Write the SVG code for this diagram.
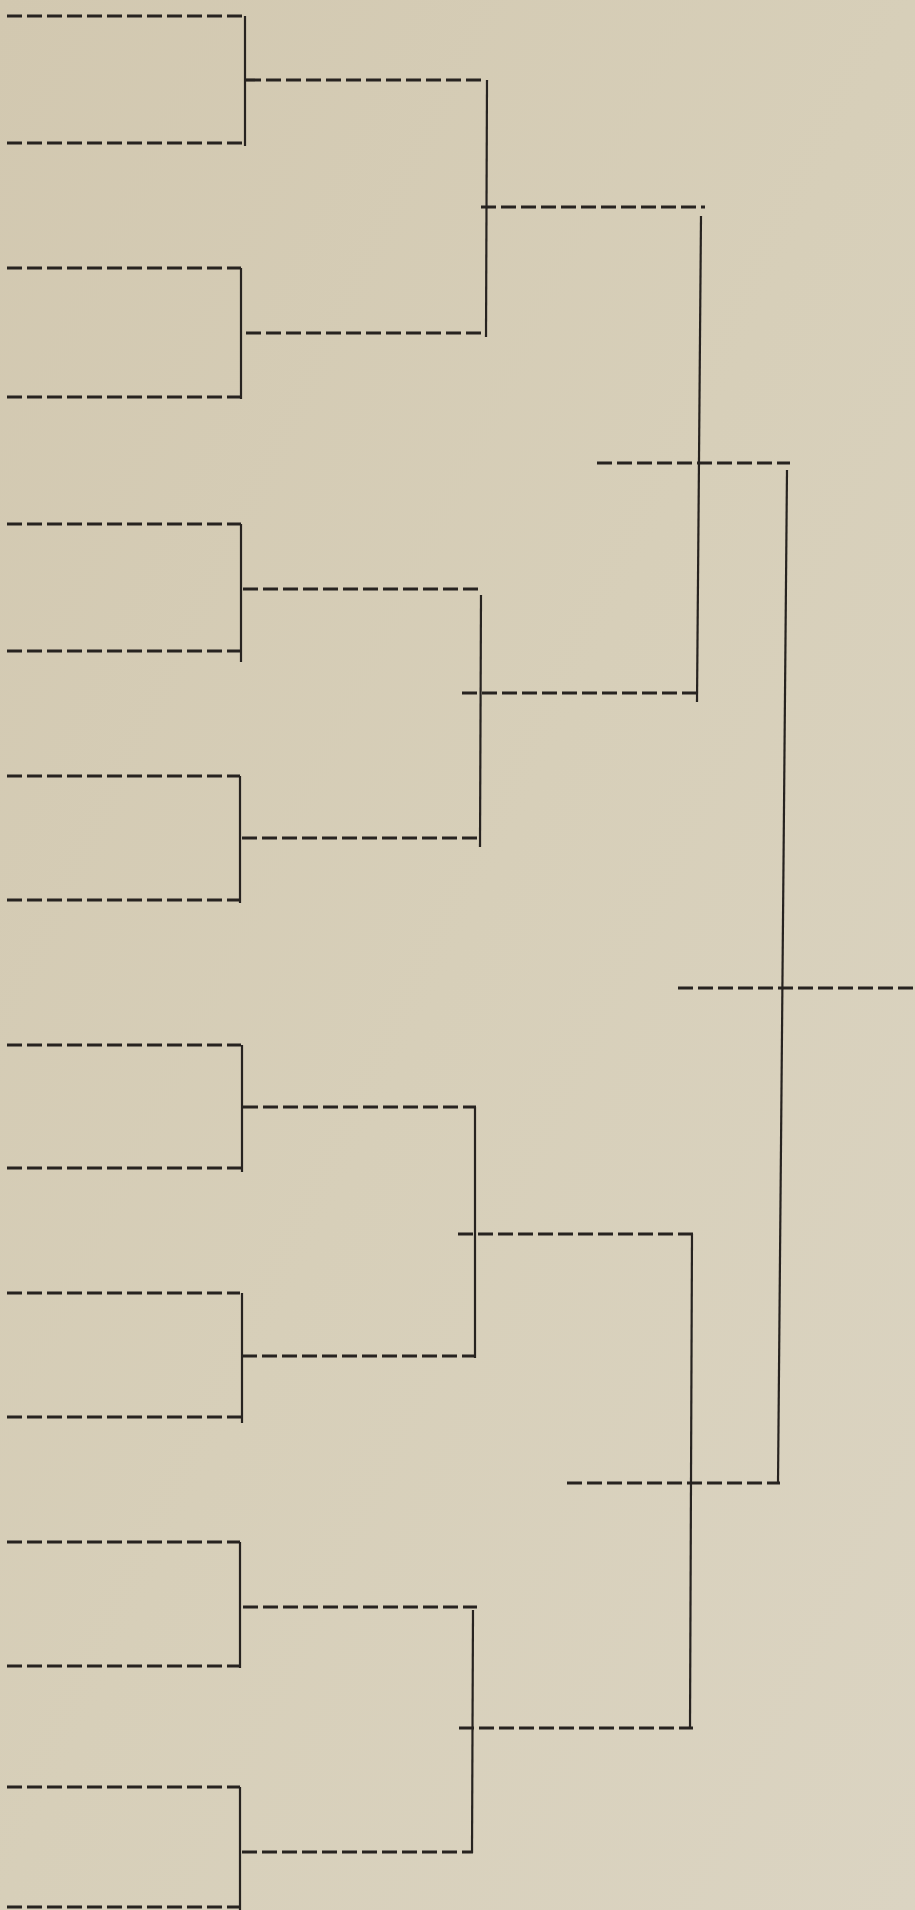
<svg xmlns="http://www.w3.org/2000/svg" width="915" height="1910" viewBox="0 0 915 1910">
<defs>
<linearGradient id="paper" x1="0" y1="0" x2="1" y2="1">
<stop offset="0" stop-color="#d2c8b0"/>
<stop offset="0.5" stop-color="#d7cfb9"/>
<stop offset="1" stop-color="#dbd4c2"/>
</linearGradient>
<style>
.slot{stroke:#272320;stroke-width:3.2;stroke-dasharray:15 5;fill:none}
.link{stroke:#272320;stroke-width:2.2;fill:none}
</style>
</defs>
<rect x="0" y="0" width="915" height="1910" fill="url(#paper)"/>
<g id="round1">
<g id="s1"><line class="slot" x1="7" y1="16" x2="245" y2="16"/></g>
<g id="s2"><line class="slot" x1="7" y1="143" x2="245" y2="143"/></g>
<g id="s3"><line class="slot" x1="7" y1="268" x2="241" y2="268"/></g>
<g id="s4"><line class="slot" x1="7" y1="397" x2="241" y2="397"/></g>
<g id="s5"><line class="slot" x1="7" y1="524" x2="241" y2="524"/></g>
<g id="s6"><line class="slot" x1="7" y1="651" x2="241" y2="651"/></g>
<g id="s7"><line class="slot" x1="7" y1="776" x2="240" y2="776"/></g>
<g id="s8"><line class="slot" x1="7" y1="900" x2="241" y2="900"/></g>
<g id="s9"><line class="slot" x1="7" y1="1045" x2="241" y2="1045"/></g>
<g id="s10"><line class="slot" x1="7" y1="1168" x2="243" y2="1168"/></g>
<g id="s11"><line class="slot" x1="7" y1="1293" x2="240" y2="1293"/></g>
<g id="s12"><line class="slot" x1="7" y1="1417" x2="242" y2="1417"/></g>
<g id="s13"><line class="slot" x1="7" y1="1542" x2="240" y2="1542"/></g>
<g id="s14"><line class="slot" x1="7" y1="1666" x2="240" y2="1666"/></g>
<g id="s15"><line class="slot" x1="7" y1="1787" x2="240" y2="1787"/></g>
<g id="s16"><line class="slot" x1="7" y1="1907" x2="240" y2="1907"/></g>
</g>
<g id="round2">
<g id="q1"><line class="slot" x1="246" y1="80" x2="486" y2="80"/></g>
<g id="q2"><line class="slot" x1="246" y1="333" x2="487" y2="333"/></g>
<g id="q3"><line class="slot" x1="243" y1="589" x2="481" y2="589"/></g>
<g id="q4"><line class="slot" x1="242" y1="838" x2="480" y2="838"/></g>
<g id="q5"><line class="slot" x1="243" y1="1107" x2="476" y2="1107"/></g>
<g id="q6"><line class="slot" x1="242" y1="1356" x2="476" y2="1356"/></g>
<g id="q7"><line class="slot" x1="243" y1="1607" x2="477" y2="1607"/></g>
<g id="q8"><line class="slot" x1="242" y1="1852" x2="473" y2="1852"/></g>
</g>
<g id="round3">
<g id="t1"><line class="slot" x1="481" y1="207" x2="705" y2="207"/></g>
<g id="t2"><line class="slot" x1="462" y1="693" x2="698" y2="693"/></g>
<g id="t3"><line class="slot" x1="458" y1="1234" x2="693" y2="1234"/></g>
<g id="t4"><line class="slot" x1="459" y1="1728" x2="693" y2="1728"/></g>
</g>
<g id="round4">
<g id="f1"><line class="slot" x1="597" y1="463" x2="790" y2="463"/></g>
<g id="f2"><line class="slot" x1="567" y1="1483" x2="780" y2="1483"/></g>
</g>
<g id="final">
<g id="w"><line class="slot" x1="678" y1="988" x2="915" y2="988"/></g>
</g>
<g id="connectors">
<line class="link" x1="245" y1="16" x2="245" y2="146"/>
<line class="link" x1="241" y1="268" x2="241" y2="399"/>
<line class="link" x1="241" y1="524" x2="241" y2="662"/>
<line class="link" x1="240" y1="776" x2="240" y2="903"/>
<line class="link" x1="242" y1="1045" x2="242" y2="1172"/>
<line class="link" x1="242" y1="1293" x2="242" y2="1423"/>
<line class="link" x1="240" y1="1542" x2="240" y2="1668"/>
<line class="link" x1="240" y1="1787" x2="240" y2="1910"/>
<line class="link" x1="487" y1="80" x2="486" y2="337"/>
<line class="link" x1="481" y1="595" x2="480" y2="847"/>
<line class="link" x1="475" y1="1107" x2="475" y2="1358"/>
<line class="link" x1="473" y1="1610" x2="472" y2="1853"/>
<line class="link" x1="701" y1="216" x2="697" y2="702"/>
<line class="link" x1="692" y1="1234" x2="690" y2="1728"/>
<line class="link" x1="787" y1="470" x2="778" y2="1483"/>
</g>
</svg>
